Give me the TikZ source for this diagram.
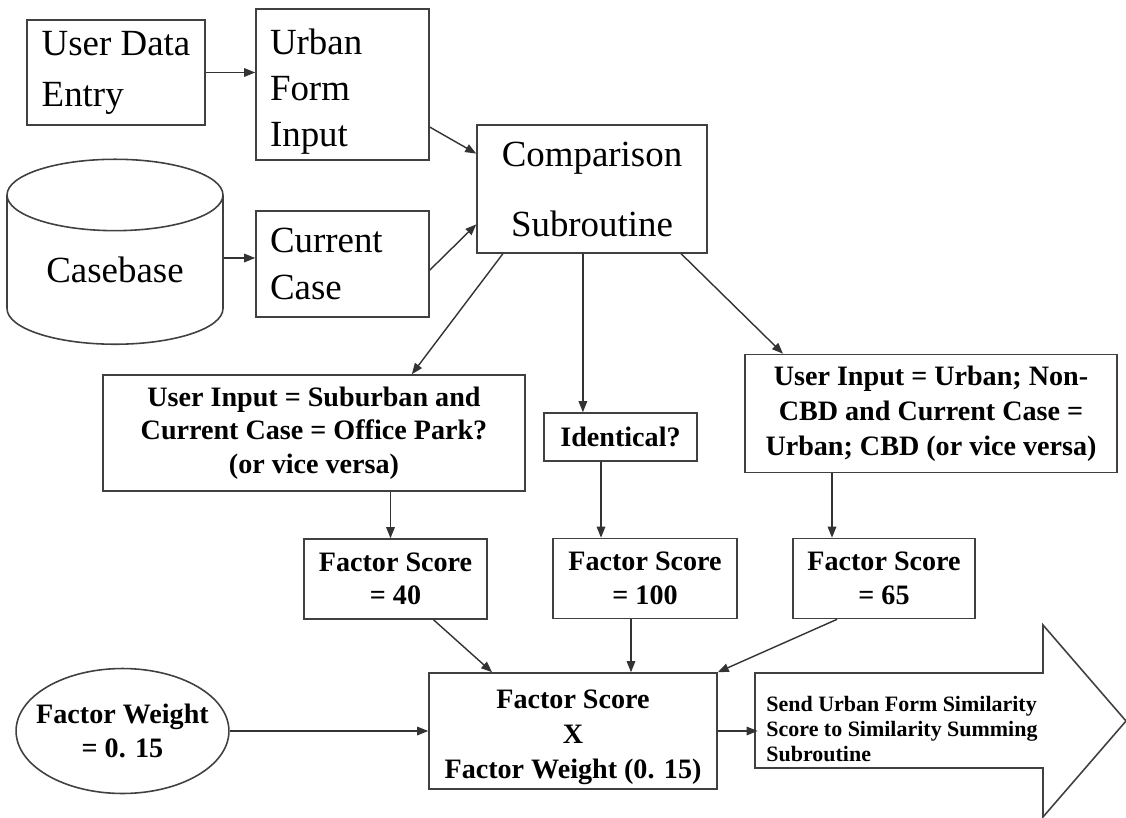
\documentclass[tikz,border=0pt]{standalone}
\usepackage{fontspec}
\setmainfont{Liberation Serif}
\usetikzlibrary{arrows.meta,shapes.geometric}

\tikzset{
  box/.style={draw=black!75,line width=0.9pt,inner sep=0pt,font=\fontsize{21}{27}\selectfont},
  bbox/.style={draw=black!75,line width=0.9pt,inner sep=0pt,align=center,font=\fontsize{16}{19}\bfseries\selectfont},
  conn/.style={draw=black!80,line width=0.8pt,-{Triangle[length=0.22cm,width=0.17cm]}}
}

\begin{document}
\begin{tikzpicture}[x=0.02cm,y=-0.02cm]
\useasboundingbox (0,0) rectangle (1126,818);

% inputs
\node[box,align=left,minimum width=3.56cm,minimum height=2.1cm] (ude) at (116,72.5) {User Data\\[2pt]Entry};
\node[box,align=left,text width=2.9cm,inner xsep=0.28cm,minimum height=3.02cm,font=\fontsize{21}{26}\selectfont] (ufi) at (342.5,84.5) {\rule{0pt}{0.8cm}Urban\\Form\\Input};
\node[box,cylinder,shape border rotate=90,aspect=0.52,minimum width=4.32cm,minimum height=3.7cm] (cb) at (115,270) {Casebase};
\node[box,align=left,text width=2.9cm,inner xsep=0.28cm,minimum height=2.12cm] (cc) at (342.5,264) {Current\\Case};
\node[box,align=center,minimum width=4.6cm,minimum height=2.56cm] (cs) at (592,189) {Comparison\\[0.45cm]Subroutine};

% tests and scores
\node[bbox,minimum width=8.44cm,minimum height=2.32cm] (sub) at (314,433) {User Input = Suburban and\\Current Case = Office Park?\\(or vice versa)};
\node[bbox,minimum width=3.06cm,minimum height=0.96cm] (ident) at (620.5,437) {Identical?};
\node[bbox,minimum width=7.44cm,minimum height=2.36cm,font=\fontsize{16}{20}\bfseries\selectfont] (urb) at (931,413.5) {User Input = Urban; Non-\\CBD and Current Case =\\Urban; CBD (or vice versa)};
\node[bbox,minimum width=3.66cm,minimum height=1.6cm] (fs40) at (395.5,579) {Factor Score\\= 40};
\node[bbox,minimum width=3.68cm,minimum height=1.6cm] (fs100) at (645,578.5) {Factor Score\\= 100};
\node[bbox,minimum width=3.64cm,minimum height=1.6cm] (fs65) at (884,578.5) {Factor Score\\= 65};

% weighting
\node[bbox,minimum width=5.76cm,minimum height=2.32cm,font=\fontsize{16}{20}\bfseries\selectfont] (prod) at (573,731) {\rule{0pt}{0.62cm}Factor Score\\X\\Factor Weight (0. 15)};
\node[bbox,ellipse,inner xsep=-0.22cm,minimum width=4.22cm,minimum height=2.5cm] (fw) at (122.5,731) {Factor Weight\\= 0. 15};
\draw[draw=black!75,line width=0.9pt] (755,673) -- (1043,673) -- (1043,625) -- (1126,721) -- (1043,817) -- (1043,768) -- (755,768) -- cycle;
\node[align=left,inner sep=0pt,minimum width=5.76cm,font=\fontsize{12.5}{14.5}\bfseries\selectfont] (send) at (902,729) {Send Urban Form Similarity\\Score to Similarity Summing\\Subroutine};

\draw[conn] ([yshift=0.24cm]cb.east) -- ([yshift=0.24cm]cb.east -| cc.west);
\draw[conn] (ude.east) -- (ude.east -| ufi.west);
\draw[conn] (ufi.-26) -- (cs.163);
\draw[conn] (cc.-4) -- (cs.197);
\draw[conn] (cs.216) -- (sub.31);
\draw[conn] (cs.262) -- (cs.262 |- ident.north);
\draw[conn] (cs.-36) -- (urb.158);
\draw[conn] ([xshift=-0.1cm]fs40.north |- sub.south) -- ([xshift=-0.1cm]fs40.north);
\draw[conn] ([xshift=-0.88cm]fs100.north |- ident.south) -- ([xshift=-0.88cm]fs100.north);
\draw[conn] ([xshift=-1.04cm]fs65.north |- urb.south) -- ([xshift=-1.04cm]fs65.north);
\draw[conn] (fs40.-47) -- (prod.144);
\draw[conn] ([xshift=-0.28cm]fs100.south) -- ([xshift=-0.28cm]fs100.south |- prod.north);
\draw[conn] (fs65.221) -- (prod.north east);
\draw[conn] (fw.east) -- (fw.east -| prod.west);
\draw[conn] (prod.east) -- (prod.east -| send.west);

\end{tikzpicture}
\end{document}
